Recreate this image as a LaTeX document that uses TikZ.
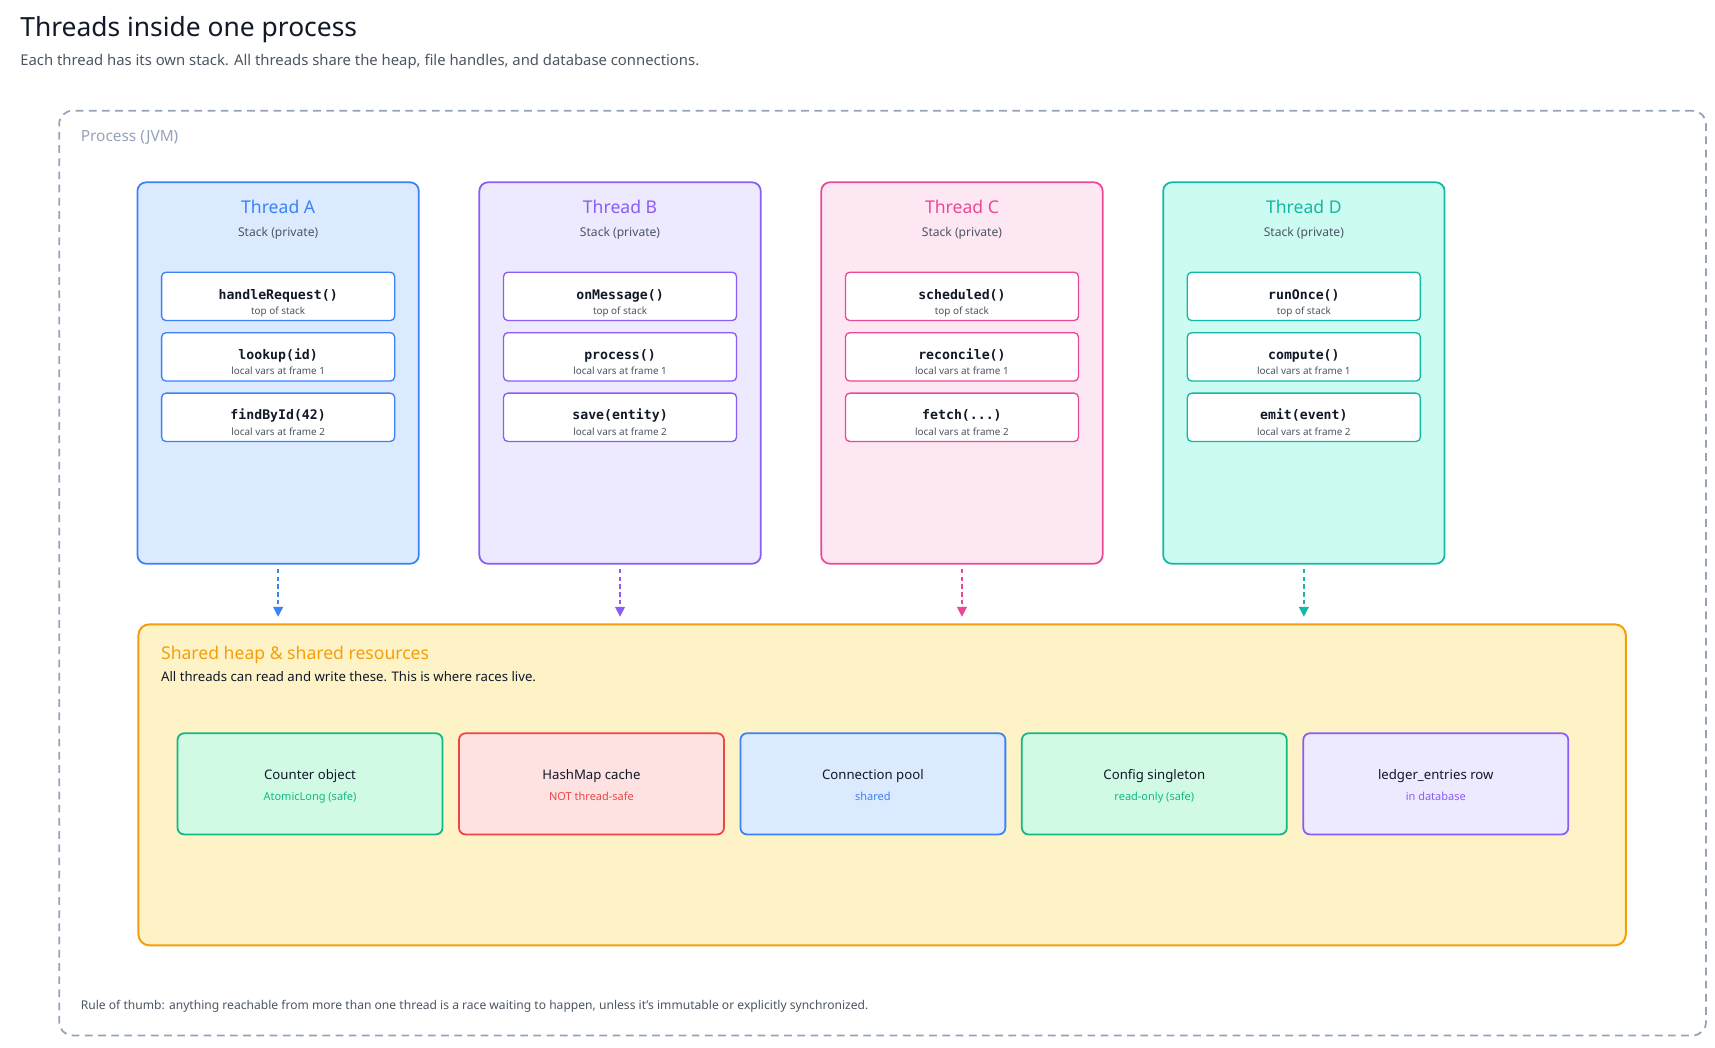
\documentclass[tikz,border=0pt]{standalone}
\usepackage{fontspec}
\setmainfont{Noto Sans}
\setmonofont{DejaVu Sans Mono}
\usetikzlibrary{arrows.meta,positioning}

\newcommand\threedots{...}

\definecolor{ink}{HTML}{111827}
\definecolor{grey}{HTML}{4B5563}
\definecolor{dash}{HTML}{94A3B8}
\definecolor{cA}{HTML}{3B82F6}\definecolor{fA}{HTML}{DBEAFE}
\definecolor{cB}{HTML}{8B5CF6}\definecolor{fB}{HTML}{EDE9FE}
\definecolor{cC}{HTML}{EC4899}\definecolor{fC}{HTML}{FCE7F3}
\definecolor{cD}{HTML}{14B8A6}\definecolor{fD}{HTML}{CCFBF1}
\definecolor{cG}{HTML}{10B981}\definecolor{fG}{HTML}{D1FAE5}
\definecolor{cR}{HTML}{EF4444}\definecolor{fR}{HTML}{FEE2E2}
\definecolor{cO}{HTML}{F59E0B}\definecolor{fO}{HTML}{FEF3C7}

\tikzset{
  thread/.style={draw=c#1, fill=f#1, line width=1.6pt, rounded corners=8pt,
    minimum width=256pt, minimum height=347pt},
  frame/.style={draw=#1, fill=white, line width=1.2pt, rounded corners=4pt,
    minimum width=212pt, minimum height=44pt},
  res/.style={draw=c#1, fill=f#1, line width=1.6pt, rounded corners=6pt,
    minimum width=241pt, minimum height=92pt},
  fn/.style={font=\ttfamily\bfseries\fontsize{12}{14}\selectfont, text=ink},
  fsub/.style={font=\fontsize{9}{10}\selectfont, text=grey},
  link/.style={draw=#1, line width=1.3pt, dash pattern=on 4pt off 3pt,
    -{Triangle[length=9pt,width=9pt]}}
}

\begin{document}
\begin{tikzpicture}[x=1pt, y=-1pt]
  \useasboundingbox (0,0) rectangle (1560,953);

  \node[anchor=base west, font=\bfseries\fontsize{24}{28}\selectfont, text=ink] (title) at (15,33) {Threads inside one process};
  \node[anchor=base west, font=\fontsize{13.5}{16}\selectfont, text=grey] (subtitle) at (15,60) {Each thread has its own stack. All threads share the heap, file handles, and database connections.};

  % process boundary
  \node[draw=dash, line width=1.6pt, dash pattern=on 7pt off 5pt, rounded corners=12pt,
        minimum width=1498pt, minimum height=841pt, anchor=north west] (proc) at (53,100) {};
  \node[anchor=base west, font=\bfseries\fontsize{14}{16}\selectfont, text=dash] (proclbl) at (70,129) {Process (JVM)};

  % shared heap
  \node[draw=cO, fill=fO, line width=1.8pt, rounded corners=10pt,
        minimum width=1353pt, minimum height=292pt, anchor=north west] (heap) at (125,567) {};
  \node[anchor=base west, font=\bfseries\fontsize{16}{18}\selectfont, text=cO] (heaptitle) at (143,600) {Shared heap \& shared resources};
  \node[anchor=base west, font=\fontsize{12}{14}\selectfont, text=ink] (heapsub) at (143,620) {All threads can read and write these. This is where races live.};

  % threads with their stacks
  \foreach \id/\x/\fa/\fb/\fc in {A/253/handleRequest()/lookup(id)/findById(42),
                                  B/564/onMessage()/process()/save(entity),
                                  C/875/scheduled()/reconcile()/fetch(\threedots),
                                  D/1186/runOnce()/compute()/emit(event)} {
    \node[thread=\id, anchor=north] (t\id) at (\x,165) {};
    \node[font=\bfseries\fontsize{16}{18}\selectfont, text=c\id, anchor=base] (t\id name) at (\x,194) {Thread \id};
    \node[font=\fontsize{11}{13}\selectfont, text=grey, anchor=base] (t\id stk) at (\x,215) {Stack (private)};
    \node[frame=c\id, anchor=north] (t\id f0) at (\x,247) {};
    \node[frame=c\id, anchor=north] (t\id f1) at (\x,302) {};
    \node[frame=c\id, anchor=north] (t\id f2) at (\x,357) {};
    \node[fn, anchor=base] at (\x,272) {\fa};
    \node[fsub, anchor=base] at (\x,286) {top of stack};
    \node[fn, anchor=base] at (\x,327) {\fb};
    \node[fsub, anchor=base] at (\x,341) {local vars at frame 1};
    \node[fn, anchor=base] at (\x,382) {\fc};
    \node[fsub, anchor=base] at (\x,396) {local vars at frame 2};
    \draw[link=c\id, shorten <=4pt, shorten >=6pt] (t\id.south) -- (t\id.south |- heap.north);
  }

  % shared resources
  \foreach \n/\x/\c/\head/\tag in {cnt/282/G/Counter object/AtomicLong (safe),
                                   map/538/R/HashMap cache/NOT thread-safe,
                                   pool/794/A/Connection pool/shared,
                                   cfg/1050/G/Config singleton/read-only (safe),
                                   row/1306/B/ledger\_entries row/in database} {
    \node[res=\c] (\n) at (\x,713) {};
    \node[font=\bfseries\fontsize{12}{14}\selectfont, text=ink, anchor=base] at (\x,709) {\head};
    \node[font=\bfseries\fontsize{10}{12}\selectfont, text=c\c, anchor=base] at (\x,728) {\tag};
  }

  \node[anchor=base west, font=\fontsize{11}{13}\selectfont, text=grey] (rule) at (70,918) {Rule of thumb: anything reachable from more than one thread is a race waiting to happen, unless it's immutable or explicitly synchronized.};
\end{tikzpicture}
\end{document}
